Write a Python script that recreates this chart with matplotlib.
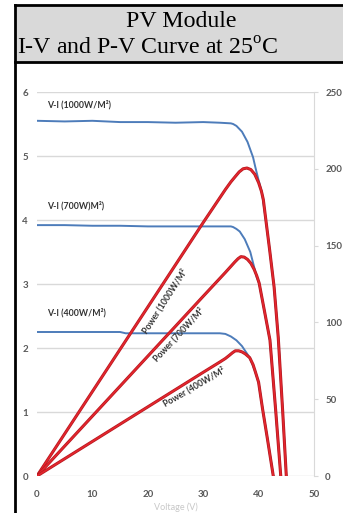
import matplotlib
matplotlib.use("Agg")
import matplotlib.pyplot as plt
from matplotlib.patches import Rectangle
from matplotlib.lines import Line2D
import matplotlib.patheffects as pe

plt.rcParams['mathtext.fontset'] = 'custom'
plt.rcParams['mathtext.rm'] = 'Liberation Serif'

# ---- data ----
v_i1000 = [0, 5, 10, 15, 20, 25, 30, 33, 35, 35.4, 36, 37, 38, 39, 39.4, 40, 40.6, 41.3, 42, 42.8, 43.55, 44.35, 45]
i_1000 = [5.55, 5.54, 5.55, 5.53, 5.53, 5.52, 5.53, 5.52, 5.51, 5.50, 5.47, 5.38, 5.22, 4.98, 4.83, 4.62, 4.43, 4.00, 3.53, 2.95, 2.16, 1.00, 0.0]

v_i700 = [0, 5, 10, 15, 20, 25, 30, 33, 35, 35.4, 36, 36.6, 37.5, 38.5, 39.65, 40.1, 41, 42.05, 43.1, 44]
i_700 = [3.92, 3.92, 3.91, 3.91, 3.90, 3.90, 3.90, 3.90, 3.90, 3.89, 3.86, 3.82, 3.70, 3.50, 3.11, 3.01, 2.60, 2.12, 1.00, 0.0]

v_i400 = [0, 5, 10, 15, 16, 20, 25, 30, 33, 34, 35, 36, 37, 38, 38.4, 39.4, 40, 40.7, 41.6, 42.65]
i_400 = [2.25, 2.25, 2.25, 2.25, 2.23, 2.23, 2.23, 2.23, 2.23, 2.22, 2.18, 2.12, 2.03, 1.90, 1.85, 1.63, 1.46, 1.06, 0.58, 0.0]

v_p1000 = [0, 10, 20, 30, 34, 35, 35.8, 36.5, 37.2, 37.9, 38.6, 39.3, 40, 40.5, 40.85, 41.3, 42, 42.8, 43.55, 44.35, 45]
p_1000 = [0, 55, 110, 165, 186.5, 191.5, 195, 198, 200, 200.5, 199.5, 196.5, 191, 185.5, 180, 167, 147, 123, 90, 42, 0]

v_p700 = [0, 10, 20, 30, 34, 35, 35.7, 36.3, 36.8, 37.4, 38, 38.6, 39.2, 39.65, 40.1, 41, 42.05, 43.1, 44]
p_700 = [0, 39, 78, 117, 132.5, 136.5, 139.3, 141.5, 142.8, 142.5, 141, 138.5, 134.5, 130.5, 125.6, 108.5, 88.5, 42, 0]

v_p400 = [0, 10, 20, 30, 33, 34, 34.7, 35.3, 35.8, 36.4, 37, 37.6, 38.4, 39, 39.4, 40, 40.7, 41.6, 42.65]
p_400 = [0, 22.5, 45, 67.5, 74.2, 76.5, 78.5, 80.3, 81.5, 81.5, 80.8, 79.5, 77, 72.5, 68, 61, 44, 24, 0]

x_ticks = [0, 10, 20, 30, 40, 50]
y_left_ticks = [0, 1, 2, 3, 4, 5, 6]
y_right_ticks = [0, 50, 100, 150, 200, 250]

title_line1 = "PV Module"
title_line2 = r"I-V and P-V Curve at 25$^{\mathrm{o}}$C"
x_label = "Voltage (V)"

blue = '#4d7cba'
red = '#e3262d'
red_edge = '#b51820'
grid_c = '#d9d9d9'
tick_c = '#595959'

fig = plt.figure(figsize=(3.43, 5.13), dpi=100)
W, H = 343, 513


def fx(px):
    return px / W


def fy(py):
    return 1 - py / H


# title box
fig.patches.append(Rectangle((fx(15), fy(62)), 1.2, fy(5) - fy(62), transform=fig.transFigure,
                             facecolor='#d9d9d9', edgecolor='none', zorder=0))
for (x0, y0, x1, y1) in [(15, 5, 360, 5), (15, 62, 360, 62), (15, 5, 15, 520)]:
    fig.lines.append(Line2D([fx(x0), fx(x1)], [fy(y0), fy(y1)], transform=fig.transFigure,
                            color='black', lw=2.0))
fig.text(fx(181), fy(27), title_line1, ha='center', va='baseline', family='Liberation Serif',
         fontsize=17.2, color='black')
fig.text(fx(17), fy(55), title_line2, ha='left', va='baseline', family='Liberation Serif',
         fontsize=17.2, color='black')

ax = fig.add_axes([fx(37), fy(476), fx(314) - fx(37), fy(92) - fy(476)])
ax2 = ax.twinx()

ax.set_xlim(0, 50)
ax.set_ylim(0, 6)
ax2.set_ylim(0, 250)

ax.set_yticks(y_left_ticks)
ax.set_xticks(x_ticks)
ax2.set_yticks(y_right_ticks)
ax.grid(axis='y', color=grid_c, lw=1.0)
ax.set_axisbelow(True)

for s in ['top', 'bottom', 'left', 'right']:
    ax.spines[s].set_visible(False)
    ax2.spines[s].set_visible(False)
ax2.spines['right'].set_visible(True)
ax2.spines['right'].set_color(grid_c)

tick_font = dict(labelsize=7, labelcolor=tick_c, labelfontfamily='Lato')
ax.tick_params(axis='both', length=0, **tick_font)
ax.tick_params(axis='y', pad=6.5)
ax.tick_params(axis='x', pad=10)
ax2.tick_params(axis='y', length=3, color=grid_c, pad=5, **tick_font)
for lab in ax.get_xticklabels() + ax.get_yticklabels() + ax2.get_yticklabels():
    lab.set_fontweight('bold')

fig.text(fx(176), fy(512), x_label, ha='center', va='bottom', family='Lato', fontsize=6.5,
         color='#c8c8c8')

ax.plot(v_i1000, i_1000, color=blue, lw=1.4)
ax.plot(v_i700, i_700, color=blue, lw=1.4)
ax.plot(v_i400, i_400, color=blue, lw=1.4)

peff = [pe.Stroke(linewidth=2.2, foreground=red_edge), pe.Normal()]
for vv, pp in [(v_p1000, p_1000), (v_p700, p_700), (v_p400, p_400)]:
    ax2.plot(vv, pp, color=red, lw=1.2, solid_joinstyle='round', path_effects=peff)

lab_kw = dict(fontsize=6.3, family='Lato', fontweight='bold', color='#333333')
ax.text(1.9, 5.8, "V-I (1000W/M²)", ha='left', va='center', **lab_kw)
ax.text(1.9, 4.23, "V-I (700W)M²)", ha='left', va='center', **lab_kw)
ax.text(1.9, 2.55, "V-I (400W/M²)", ha='left', va='center', **lab_kw)

ax2.text(23.1, 114, "Power (1000W/M²", rotation=57, ha='center', va='center', **lab_kw)
ax2.text(25.5, 92, "Power (700W/M²", rotation=47, ha='center', va='center', **lab_kw)
ax2.text(28.3, 58, "Power (400W/M²", rotation=30, ha='center', va='center', **lab_kw)

fig.savefig('out.png', dpi=100)
